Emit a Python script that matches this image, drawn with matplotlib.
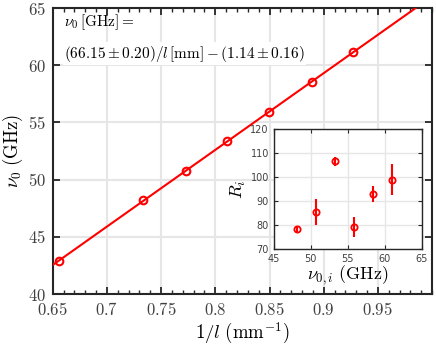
import matplotlib
matplotlib.use("Agg")
import matplotlib.pyplot as plt
import numpy as np
from matplotlib.ticker import FixedLocator, MultipleLocator

plt.rcParams['mathtext.fontset'] = 'cm'
plt.rcParams['font.family'] = 'DejaVu Serif'

# main data: 1/l (mm^-1) vs resonance frequency (GHz)
inv_l = np.array([0.6558, 0.7330, 0.7725, 0.8111, 0.8497, 0.8890, 0.9268])
nu0 = np.array([42.88, 48.21, 50.74, 53.36, 55.90, 58.52, 61.14])

# inset data
nu_i = np.array([48.16, 50.69, 53.26, 55.88, 58.45, 61.03])
R_i = np.array([78.3, 85.3, 106.5, 79.2, 92.9, 98.9])
R_err = np.array([1.4, 5.5, 1.8, 4.3, 3.3, 6.6])

xticks = [0.65, 0.7, 0.75, 0.8, 0.85, 0.9, 0.95]
yticks = [40, 45, 50, 55, 60, 65]

red = '#ff0000'
spine_c = '#262626'
grid_c = '#e6e6e6'

fig = plt.figure(figsize=(4.36, 3.48), dpi=100)
ax = fig.add_axes([0.121, 0.155, 0.870, 0.822])

slope, icpt = np.polyfit(inv_l, nu0, 1)
xx = np.linspace(0.65, 1.0, 200)
ax.plot(xx, slope * xx + icpt, color=red, lw=1.5, zorder=3)
ax.plot(inv_l, nu0, 'o', mfc='none', mec=red, ms=5.5, mew=1.5, zorder=4)

ax.set_xlim(0.65, 1.0)
ax.set_ylim(40, 65)
ax.xaxis.set_major_locator(FixedLocator(xticks))
ax.yaxis.set_major_locator(FixedLocator(yticks))
ax.xaxis.set_minor_locator(MultipleLocator(0.01))
ax.set_xticklabels([f'${t:g}$' for t in xticks])
ax.set_yticklabels([f'${t}$' for t in yticks])
ax.tick_params(which='both', direction='in', top=True, right=True,
               color=spine_c, labelcolor='#404040', labelsize=12)
ax.tick_params(which='major', length=5, width=1.3)
ax.tick_params(which='minor', length=3, width=1.0)
ax.tick_params(axis='x', pad=6)
ax.tick_params(axis='y', pad=5)
ax.grid(True, color=grid_c, lw=1.5)
ax.set_axisbelow(True)
for s in ax.spines.values():
    s.set_color(spine_c)
    s.set_linewidth(1.5)

ax.set_xlabel(r'$1/l\ (\mathrm{mm}^{-1})$', fontsize=13.5, labelpad=1)
ax.set_ylabel(r'$\nu_0\ (\mathrm{GHz})$', fontsize=13.5, labelpad=2)

ax.text(0.03, 0.985, r'$\nu_0\,[\mathrm{GHz}] =$', transform=ax.transAxes,
        fontsize=11, va='top', ha='left')
ax.text(0.03, 0.875, r'$(66.15 \pm 0.20)/l\,[\mathrm{mm}] - (1.14 \pm 0.16)$',
        transform=ax.transAxes, fontsize=11, va='top', ha='left',
        bbox=dict(facecolor='white', edgecolor='none', pad=1))

# inset
ins = fig.add_axes([0.628, 0.2845, 0.339, 0.345])
ins.errorbar(nu_i, R_i, yerr=R_err, fmt='o', mfc='none', mec=red, ecolor=red,
             ms=4.5, mew=1.3, elinewidth=1.5, capsize=0)
ins.set_xlim(45, 65)
ins.set_ylim(70, 120)
ins.xaxis.set_major_locator(MultipleLocator(5))
ins.yaxis.set_major_locator(MultipleLocator(10))
ins.tick_params(which='both', direction='in', top=True, right=True,
                color=spine_c, labelcolor='#404040', labelsize=7, length=3)
for lab in ins.get_xticklabels() + ins.get_yticklabels():
    lab.set_family('DejaVu Sans')
ins.grid(True, color=grid_c, lw=1.0)
ins.set_axisbelow(True)
for s in ins.spines.values():
    s.set_color(spine_c)
    s.set_linewidth(1.0)
ins.set_xlabel(r'$\nu_{0,i}\ (\mathrm{GHz})$', fontsize=13, labelpad=0)
ins.set_ylabel(r'$R_i$', fontsize=13, labelpad=2)

fig.savefig('out.png', dpi=100)
